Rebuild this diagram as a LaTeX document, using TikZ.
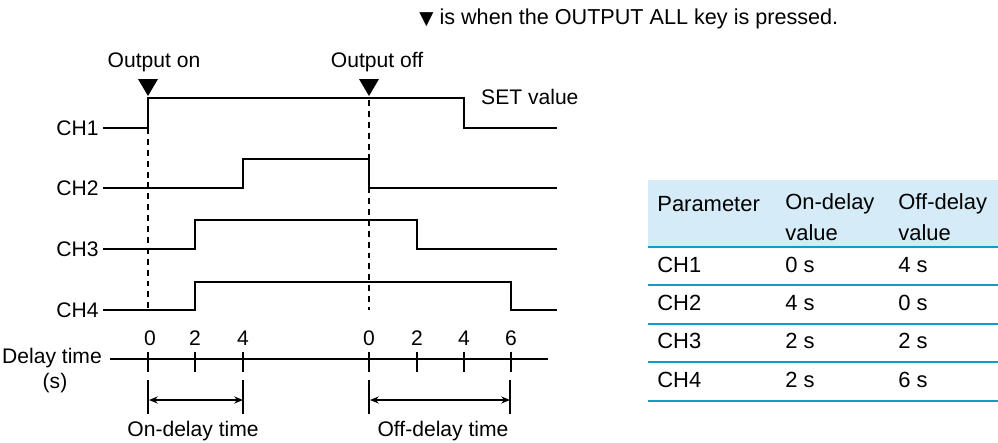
\documentclass[tikz,border=0pt]{standalone}
\usepackage{fontspec}
\setmainfont{Liberation Sans}
\newfontfamily\symfont{DejaVu Sans}
\usepackage{xcolor}
\usepackage{tikz}
\usetikzlibrary{positioning, arrows.meta}
\definecolor{hdrBlue}{RGB}{213, 235, 248}
\definecolor{rulTeal}{RGB}{20, 155, 200}

\begin{document}
\begin{tikzpicture}[
        x=0.02cm, y=-0.02cm,
        font=\fontsize{12}{13}\selectfont,
        sig/.style={line width=1.1pt, line join=miter},
        guide/.style={dash pattern=on 3.4pt off 2.8pt, line width=0.7pt},
        tck/.style={line width=0.6pt},
        dim/.style={{Stealth[length=5pt,width=4pt]}-{Stealth[length=5pt,width=4pt]}, line width=0.6pt},
        chlbl/.style={anchor=east, inner sep=0pt},
        cell/.style={anchor=west, inner sep=0pt, font=\fontsize{12.5}{13}\selectfont},
        rowline/.style={rulTeal, line width=0.8pt}
    ]
    \useasboundingbox (0,0) rectangle (998,443);

    % note at the top
    \node[anchor=west, inner sep=0pt, font=\fontsize{12.3}{13}\selectfont] (note) at (419,19) {{\symfont\fontsize{10.5}{10}\selectfont ▼} is when the OUTPUT ALL key is pressed.};

    % key presses
    \node (on) at (154,62) {Output on};
    \node (off) at (377,62) {Output off};
    \fill (138,79) -- (158,79) -- (148,96) -- cycle;
    \fill (359,79) -- (379,79) -- (369,96) -- cycle;
    \draw[guide] (148,128) -- (148,310);
    \draw[guide] (369,100) -- (369,310);

    % channels
    \node[chlbl] (ch1) at (99,128) {CH1};
    \node[chlbl] (ch2) at (99,188) {CH2};
    \node[chlbl] (ch3) at (99,249) {CH3};
    \node[chlbl] (ch4) at (99,310) {CH4};
    \draw[sig] (ch1.east) ++(4,0) -- (148,128) -- (148,98) -- (464,98) -- (464,128) -- (557,128);
    \draw[sig] (ch2.east) ++(4,0) -- (243,188) -- (243,159) -- (369,159) -- (369,188) -- (557,188);
    \draw[sig] (ch3.east) ++(4,0) -- (195,249) -- (195,220) -- (417,220) -- (417,249) -- (557,249);
    \draw[sig] (ch4.east) ++(4,0) -- (195,310) -- (195,282) -- (511,282) -- (511,310) -- (557,310);
    \node[anchor=west] (set) at (475,97) {SET value};

    % delay time axis
    \node (dly) at (52,358) {Delay time};
    \node (sec) at (55,383) {(s)};
    \draw[line width=1.1pt] (110,359) -- (548,359);
    \draw[line width=1.7pt] (148,352) -- (148,372) (369,352) -- (369,372);
    \draw[tck] (195,352) -- (195,372) (243,352) -- (243,372)
        (417,352) -- (417,372) (464,352) -- (464,372) (511,352) -- (511,372);
    \node (t0) at (150,338) {0};
    \node (t2) at (195,338) {2};
    \node (t4) at (243,338) {4};
    \node (u0) at (369,338) {0};
    \node (u2) at (417,338) {2};
    \node (u4) at (464,338) {4};
    \node (u6) at (511,338) {6};

    % delay spans
    \draw[tck] (148,380) -- (148,414) (243,380) -- (243,414);
    \draw[tck] (369,380) -- (369,414) (510,380) -- (510,414);
    \coordinate (onA) at (149,400);
    \coordinate (onB) at (243,400);
    \coordinate (offA) at (370,400);
    \coordinate (offB) at (510,400);
    \draw[dim] (onA) -- (onB);
    \draw[dim] (offA) -- (offB);
    \node (ondly) at (193,431) {On-delay time};
    \node (offdly) at (443,431) {Off-delay time};

    % parameter table
    \fill[hdrBlue] (648,180) rectangle (998,247);
    \foreach \y in {247,285,324,362,401}
        \draw[rowline] (648,\y) -- (998,\y);
    \node[cell] (hpar) at (657,204) {Parameter};
    \node[cell] (hon) at (785,204) {On-delay};
    \node[cell] (hoff) at (898,204) {Off-delay};
    \node[cell] (hon2) at (785,233) {value};
    \node[cell] (hoff2) at (898,233) {value};
    \node[cell] (r1) at (657,265) {CH1};
    \node[cell] (r1a) at (785,265) {0 s};
    \node[cell] (r1b) at (898,265) {4 s};
    \node[cell] (r2) at (657,303) {CH2};
    \node[cell] (r2a) at (785,303) {4 s};
    \node[cell] (r2b) at (898,303) {0 s};
    \node[cell] (r3) at (657,341) {CH3};
    \node[cell] (r3a) at (785,341) {2 s};
    \node[cell] (r3b) at (898,341) {2 s};
    \node[cell] (r4) at (657,380) {CH4};
    \node[cell] (r4a) at (785,380) {2 s};
    \node[cell] (r4b) at (898,380) {6 s};
\end{tikzpicture}
\end{document}
